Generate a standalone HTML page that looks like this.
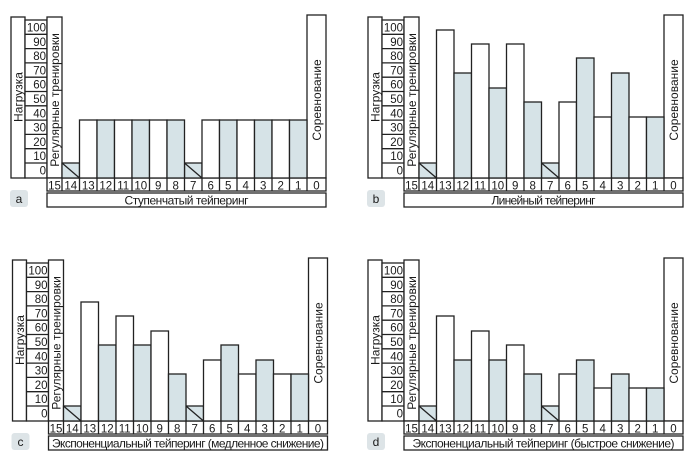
<!DOCTYPE html>
<html><head><meta charset="utf-8"><style>
html,body{margin:0;padding:0;background:#fff;}
svg{display:block;}
text{font-family:"Liberation Sans",Arial,sans-serif;fill:#1a1a1a;}
.l{fill:none;stroke:#222;stroke-width:1.3;}
.w{fill:#fff;stroke:#222;stroke-width:1.3;}
.s{fill:#d6e3e7;stroke:#222;stroke-width:1.3;}
.n{font-size:11.5px;text-anchor:middle;}
.t{font-size:12px;text-anchor:middle;}
</style></head><body>
<svg width="697" height="467" viewBox="0 0 697 467" xmlns="http://www.w3.org/2000/svg">
<defs>
<g id="frame">
<rect class="w" x="11" y="17" width="14" height="161"/>
<rect class="w" x="25" y="20" width="22" height="158"/>
<path class="l" d="M25 34.3H47M25 48.6H47M25 62.9H47M25 77.2H47M25 91.5H47M25 105.8H47M25 120.1H47M25 134.4H47M25 148.7H47M25 163H47"/>
<g class="n" style="text-anchor:end">
<text x="46" y="31.5">100</text><text x="46" y="45.8">90</text><text x="46" y="60.1">80</text><text x="46" y="74.4">70</text><text x="46" y="88.7">60</text><text x="46" y="103">50</text><text x="46" y="117.3">40</text><text x="46" y="131.6">30</text><text x="46" y="145.9">20</text><text x="46" y="160.2">10</text><text x="46" y="174.5">0</text>
</g>
<rect class="w" x="47" y="17" width="15" height="161"/>
<rect class="w" x="307" y="15" width="19" height="163"/>
<text class="t" transform="translate(22.5,97) rotate(-90)">Нагрузка</text>
<text class="t" transform="translate(59,100) rotate(-90)">Регулярные тренировки</text>
<text class="t" transform="translate(321,100) rotate(-90)">Соревнование</text>
<rect class="w" x="47" y="178" width="279" height="13"/>
<path class="l" d="M62 178V191M79.5 178V191M97 178V191M114.5 178V191M132 178V191M149.5 178V191M167 178V191M184.5 178V191M202 178V191M219.5 178V191M237 178V191M254.5 178V191M272 178V191M289.5 178V191M307 178V191"/>
<g class="n">
<text x="54.5" y="189.5">15</text><text x="70.75" y="189.5">14</text><text x="88.25" y="189.5">13</text><text x="105.75" y="189.5">12</text><text x="123.25" y="189.5">11</text><text x="140.75" y="189.5">10</text><text x="158.25" y="189.5">9</text><text x="175.75" y="189.5">8</text><text x="193.25" y="189.5">7</text><text x="210.75" y="189.5">6</text><text x="228.25" y="189.5">5</text><text x="245.75" y="189.5">4</text><text x="263.25" y="189.5">3</text><text x="280.75" y="189.5">2</text><text x="298.25" y="189.5">1</text><text x="316.5" y="189.5">0</text>
</g>
<rect class="w" x="47" y="193" width="279" height="14"/>
<rect x="10" y="190" width="18" height="17" rx="3" fill="#dde4e7"/>
<rect class="s" x="62" y="163" width="17.5" height="15"/><path class="l" d="M62 163L79.5 178"/>
<rect class="s" x="184.5" y="163" width="17.5" height="15"/><path class="l" d="M184.5 163L202 178"/>
</g>
</defs>

<!-- a -->
<g transform="translate(0,0)">
<use href="#frame"/>
<text x="19" y="203" class="t">a</text>
<text x="186.5" y="204.5" class="t" textLength="124">Ступенчатый тейперинг</text>
<rect class="w" x="79.5" y="120" width="17.5" height="58"/>
<rect class="s" x="97" y="120" width="17.5" height="58"/>
<rect class="w" x="114.5" y="120" width="17.5" height="58"/>
<rect class="s" x="132" y="120" width="17.5" height="58"/>
<rect class="w" x="149.5" y="120" width="17.5" height="58"/>
<rect class="s" x="167" y="120" width="17.5" height="58"/>
<rect class="w" x="202" y="120" width="17.5" height="58"/>
<rect class="s" x="219.5" y="120" width="17.5" height="58"/>
<rect class="w" x="237" y="120" width="17.5" height="58"/>
<rect class="s" x="254.5" y="120" width="17.5" height="58"/>
<rect class="w" x="272" y="120" width="17.5" height="58"/>
<rect class="s" x="289.5" y="120" width="17.5" height="58"/>
</g>

<!-- b -->
<g transform="translate(357,0)">
<use href="#frame"/>
<text x="19" y="203" class="t">b</text>
<text x="186.5" y="204.5" class="t" textLength="104">Линейный тейперинг</text>
<rect class="w" x="79.5" y="30" width="17.5" height="148"/>
<rect class="s" x="97" y="73" width="17.5" height="105"/>
<rect class="w" x="114.5" y="44" width="17.5" height="134"/>
<rect class="s" x="132" y="88" width="17.5" height="90"/>
<rect class="w" x="149.5" y="44" width="17.5" height="134"/>
<rect class="s" x="167" y="102" width="17.5" height="76"/>
<rect class="w" x="202" y="102" width="17.5" height="76"/>
<rect class="s" x="219.5" y="58" width="17.5" height="120"/>
<rect class="w" x="237" y="117" width="17.5" height="61"/>
<rect class="s" x="254.5" y="73" width="17.5" height="105"/>
<rect class="w" x="272" y="117" width="17.5" height="61"/>
<rect class="s" x="289.5" y="117" width="17.5" height="61"/>
</g>

<!-- c -->
<g transform="translate(1.5,243)">
<use href="#frame"/>
<text x="19" y="203" class="t">c</text>
<text x="186.5" y="204.5" class="t" textLength="272">Экспоненциальный тейперинг (медленное снижение)</text>
<rect class="w" x="79.5" y="59" width="17.5" height="119"/>
<rect class="s" x="97" y="102" width="17.5" height="76"/>
<rect class="w" x="114.5" y="73" width="17.5" height="105"/>
<rect class="s" x="132" y="102" width="17.5" height="76"/>
<rect class="w" x="149.5" y="88" width="17.5" height="90"/>
<rect class="s" x="167" y="131" width="17.5" height="47"/>
<rect class="w" x="202" y="117" width="17.5" height="61"/>
<rect class="s" x="219.5" y="102" width="17.5" height="76"/>
<rect class="w" x="237" y="131" width="17.5" height="47"/>
<rect class="s" x="254.5" y="117" width="17.5" height="61"/>
<rect class="w" x="272" y="131" width="17.5" height="47"/>
<rect class="s" x="289.5" y="131" width="17.5" height="47"/>
</g>

<!-- d -->
<g transform="translate(357,243)">
<use href="#frame"/>
<text x="19" y="203" class="t">d</text>
<text x="186.5" y="204.5" class="t" textLength="262">Экспоненциальный тейперинг (быстрое снижение)</text>
<rect class="w" x="79.5" y="73" width="17.5" height="105"/>
<rect class="s" x="97" y="117" width="17.5" height="61"/>
<rect class="w" x="114.5" y="88" width="17.5" height="90"/>
<rect class="s" x="132" y="117" width="17.5" height="61"/>
<rect class="w" x="149.5" y="102" width="17.5" height="76"/>
<rect class="s" x="167" y="131" width="17.5" height="47"/>
<rect class="w" x="202" y="131" width="17.5" height="47"/>
<rect class="s" x="219.5" y="117" width="17.5" height="61"/>
<rect class="w" x="237" y="145" width="17.5" height="33"/>
<rect class="s" x="254.5" y="131" width="17.5" height="47"/>
<rect class="w" x="272" y="145" width="17.5" height="33"/>
<rect class="s" x="289.5" y="145" width="17.5" height="33"/>
</g>
</svg>
</body></html>
